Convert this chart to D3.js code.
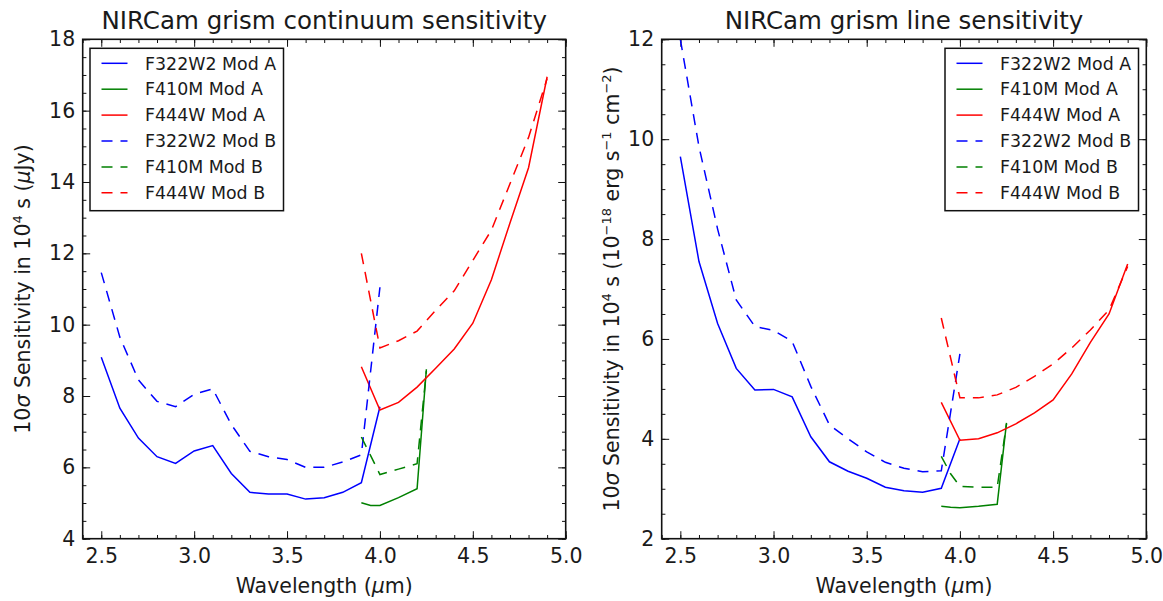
<!DOCTYPE html>
<html lang="en">
<head>
    <meta charset="UTF-8">
    <title>NIRCam grism sensitivity</title>
    <script src="https://d3js.org/d3.v7.min.js"></script>
    <style>
        body { margin: 0; background: #fff; }
        text { font-family: "DejaVu Sans", sans-serif; fill: #1a1a1a; }
    </style>
</head>
<body>
<script>

    // wavelength grids (micron)
    var wavesF322W2 = [2.5, 2.6, 2.7, 2.8, 2.9, 3.0, 3.1, 3.2, 3.3, 3.4, 3.5, 3.6, 3.7, 3.8, 3.9, 4.0];
    var wavesF410M = [3.9, 3.95, 4.0, 4.1, 4.2, 4.25];
    var wavesF444W = [3.9, 4.0, 4.1, 4.2, 4.3, 4.4, 4.5, 4.6, 4.7, 4.8, 4.9];

    // continuum sensitivity (uJy), 10 sigma in 1e4 s
    var contF322W2A = [9.09, 7.66, 6.82, 6.30, 6.11, 6.46, 6.61, 5.83, 5.30, 5.25, 5.25, 5.11, 5.15, 5.30, 5.57, 7.70];
    var contF410MA = [5.01, 4.93, 4.93, 5.15, 5.40, 8.75];
    var contF444WA = [8.82, 7.61, 7.82, 8.25, 8.78, 9.32, 10.04, 11.26, 12.85, 14.4, 16.95];
    var contF322W2B = [11.46, 9.65, 8.45, 7.85, 7.7, 8.05, 8.2, 7.2, 6.45, 6.3, 6.22, 6.0, 6.0, 6.15, 6.35, 11.05];
    var contF410MB = [6.85, 6.33, 5.8, 5.95, 6.1, 8.7];
    var contF444WB = [12.0, 9.35, 9.55, 9.82, 10.4, 10.95, 11.8, 12.65, 13.95, 15.25, 16.9];

    // line sensitivity (1e-18 erg/s/cm2)
    var lineF322W2A = [9.65, 7.55, 6.31, 5.41, 4.98, 4.99, 4.84, 4.04, 3.54, 3.35, 3.21, 3.03, 2.96, 2.93, 3.01, 4.0];
    var lineF410MA = [2.65, 2.63, 2.62, 2.65, 2.69, 4.32];
    var lineF444WA = [4.73, 3.97, 4.0, 4.12, 4.3, 4.52, 4.78, 5.3, 5.93, 6.5, 7.5];
    var lineF322W2B = [12.0, 9.85, 8.2, 6.78, 6.25, 6.17, 5.95, 5.05, 4.28, 4.0, 3.74, 3.53, 3.41, 3.34, 3.36, 5.7];
    var lineF410MB = [3.65, 3.3, 3.05, 3.03, 3.03, 4.3];
    var lineF444WB = [6.42, 4.82, 4.82, 4.88, 5.03, 5.25, 5.5, 5.82, 6.18, 6.58, 7.45];

    var seriesNames = ['F322W2 Mod A', 'F410M Mod A', 'F444W Mod A', 'F322W2 Mod B', 'F410M Mod B', 'F444W Mod B'];
    var seriesColors = ['#0000ff', '#008000', '#ff0000', '#0000ff', '#008000', '#ff0000'];
    var seriesDashed = [false, false, false, true, true, true];
    var seriesWaves = [wavesF322W2, wavesF410M, wavesF444W, wavesF322W2, wavesF410M, wavesF444W];

    var xTicks = [2.5, 3.0, 3.5, 4.0, 4.5, 5.0];
    var contTicks = [4, 6, 8, 10, 12, 14, 16, 18];
    var lineTicks = [2, 4, 6, 8, 10, 12];

    var svg = d3.select('body')
        .append('svg')
        .attr('width', 1163)
        .attr('height', 601);

    function panel(opt) {
        var x = d3.scaleLinear().domain([2.4, 5.0]).range([opt.left, opt.right]);
        var y = d3.scaleLinear().domain(opt.yDomain).range([538.7, 39.3]);

        var g = svg.append('g');

        g.append('clipPath').attr('id', opt.id + '-clip')
            .append('rect')
            .attr('x', opt.left).attr('y', 39.3)
            .attr('width', opt.right - opt.left).attr('height', 499.4);

        // minor ticks every 0.1 on x, 0.5 on y
        var xMinor = d3.range(24, 51).map(function (d) { return d / 10; });
        var yMinor = d3.range(opt.yDomain[0] * 2, opt.yDomain[1] * 2 + 1).map(function (d) { return d / 2; });

        function ax(gen, scale, vals, size, tx, ty, labels) {
            var a = gen(scale).tickValues(vals).tickSize(-size).tickPadding(labels ? 10 : 0);
            if (!labels) a.tickFormat('');
            else a.tickFormat(d3.format(labels));
            var sel = g.append('g').attr('transform', 'translate(' + tx + ',' + ty + ')').call(a);
            sel.select('.domain').remove();
            sel.selectAll('line').attr('stroke', '#111').attr('stroke-width', 1);
            return sel;
        }

        var w = opt.right - opt.left;
        ax(d3.axisBottom, x, xMinor, 3.7, 0, 538.7);
        ax(d3.axisTop, x, xMinor, 3.7, 0, 39.3);
        ax(d3.axisLeft, y, yMinor, 3.7, opt.left, 0);
        ax(d3.axisRight, y, yMinor, 3.7, opt.right, 0);
        var xb = ax(d3.axisBottom, x, xTicks, 7.5, 0, 538.7, '.1f');
        ax(d3.axisTop, x, xTicks, 7.5, 0, 39.3);
        var yl = ax(d3.axisLeft, y, opt.yTicks, 7.5, opt.left, 0, 'd');
        ax(d3.axisRight, y, opt.yTicks, 7.5, opt.right, 0);

        xb.selectAll('text').attr('font-size', 20.5).attr('fill', '#1a1a1a')
            .attr('font-family', 'DejaVu Sans');
        yl.selectAll('text').attr('font-size', 20.5).attr('fill', '#1a1a1a')
            .attr('font-family', 'DejaVu Sans').attr('x', -7.5);

        var line = d3.line()
            .x(function (d) { return x(d[0]); })
            .y(function (d) { return y(d[1]); });

        var lines = g.append('g').attr('clip-path', 'url(#' + opt.id + '-clip)');
        opt.values.forEach(function (vals, i) {
            var pts = seriesWaves[i].map(function (wv, j) { return [wv, vals[j]]; });
            lines.append('path')
                .attr('d', line(pts))
                .attr('fill', 'none')
                .attr('stroke', seriesColors[i])
                .attr('stroke-width', 1.5)
                .attr('stroke-dasharray', seriesDashed[i] ? '11,8' : null);
        });

        // frame
        g.append('rect')
            .attr('x', opt.left).attr('y', 39.3)
            .attr('width', w).attr('height', 499.4)
            .attr('fill', 'none').attr('stroke', '#111').attr('stroke-width', 1.6);

        // title
        g.append('text')
            .attr('x', (opt.left + opt.right) / 2).attr('y', 29)
            .attr('text-anchor', 'middle').attr('font-size', 24.5)
            .text(opt.title);

        // x label
        var xl = g.append('text')
            .attr('x', (opt.left + opt.right) / 2).attr('y', 593)
            .attr('text-anchor', 'middle').attr('font-size', 20.5);
        xl.append('tspan').text('Wavelength (');
        xl.append('tspan').attr('font-style', 'italic').text('\u03bc');
        xl.append('tspan').text('m)');

        // y label
        var yt = g.append('text')
            .attr('transform', 'translate(' + opt.ylabelX + ',289) rotate(-90)')
            .attr('text-anchor', 'middle').attr('font-size', 20.5);
        opt.ylabel.forEach(function (p) {
            var t = yt.append('tspan').text(p[0]);
            if (p[1] === 'i') t.attr('font-style', 'italic');
            if (p[1] === 's') t.attr('font-size', 13).attr('dy', -8);
            if (p[1] === 'r') t.attr('dy', 8);
        });

        // legend
        var lg = g.append('g').attr('transform', 'translate(' + opt.legendX + ',48.3)');
        lg.append('rect')
            .attr('width', 193.5).attr('height', 162.4)
            .attr('fill', '#fff').attr('stroke', '#111').attr('stroke-width', 1.5);
        seriesNames.forEach(function (name, i) {
            var ry = 15 + i * 25.9;
            lg.append('line')
                .attr('x1', 11.5).attr('x2', 37.5).attr('y1', ry).attr('y2', ry)
                .attr('stroke', seriesColors[i]).attr('stroke-width', 1.5)
                .attr('stroke-dasharray', seriesDashed[i] ? '11,8' : null);
            lg.append('text')
                .attr('x', 55).attr('y', ry).attr('dy', '0.36em')
                .attr('font-size', 17.4).text(name);
        });
    }

    panel({
        id: 'cont', left: 82.7, right: 565.7, yDomain: [4, 18], yTicks: contTicks,
        title: 'NIRCam grism continuum sensitivity',
        values: [contF322W2A, contF410MA, contF444WA, contF322W2B, contF410MB, contF444WB],
        legendX: 90, ylabelX: 30,
        ylabel: [['10'], ['\u03c3', 'i'], [' Sensitivity in 10'], ['4', 's'], [' s (', 'r'], ['\u03bc', 'i'], ['Jy)']]
    });

    panel({
        id: 'line', left: 661.7, right: 1146.3, yDomain: [2, 12], yTicks: lineTicks,
        title: 'NIRCam grism line sensitivity',
        values: [lineF322W2A, lineF410MA, lineF444WA, lineF322W2B, lineF410MB, lineF444WB],
        legendX: 945, ylabelX: 619,
        ylabel: [['10'], ['\u03c3', 'i'], [' Sensitivity in 10'], ['4', 's'], [' s (10', 'r'], ['\u221218', 's'],
            [' erg s', 'r'], ['\u22121', 's'], [' cm', 'r'], ['\u22122', 's'], [')', 'r']]
    });

</script>
</body>
</html>
